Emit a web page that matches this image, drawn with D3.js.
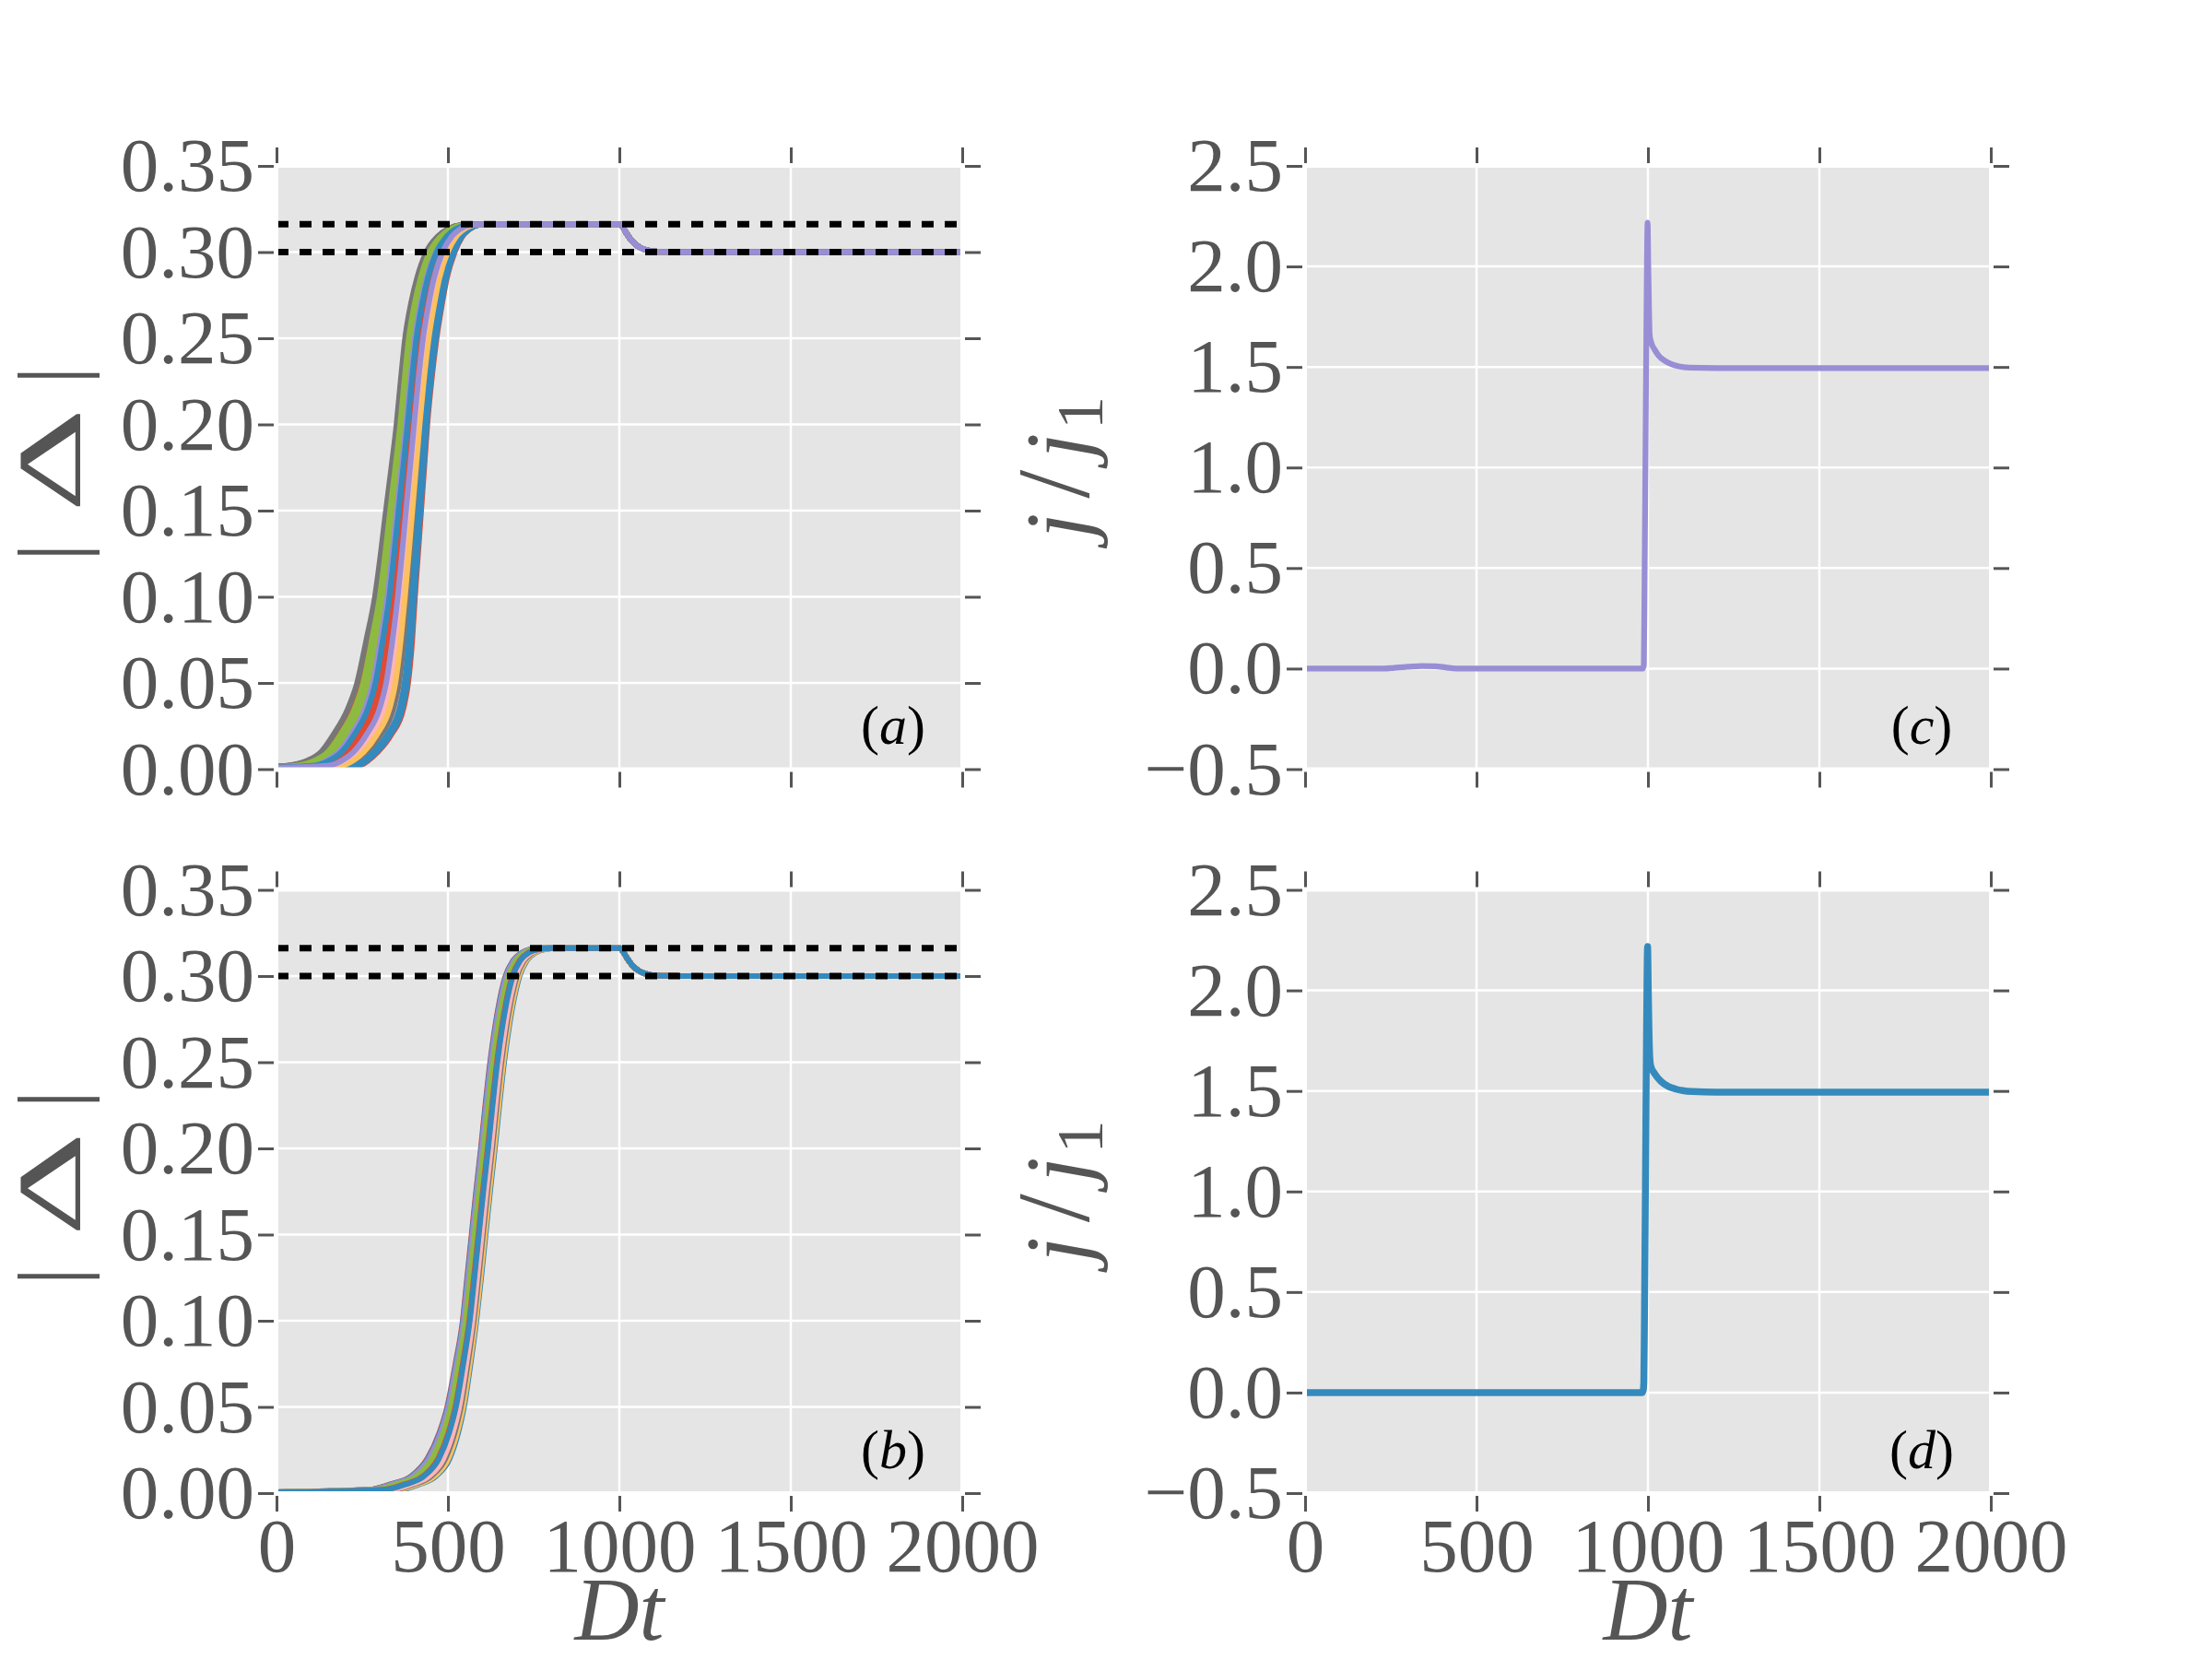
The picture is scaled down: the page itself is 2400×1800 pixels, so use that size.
<!DOCTYPE html>
<html><head><meta charset="utf-8">
<script src="https://cdn.jsdelivr.net/npm/d3@7"></script>
<style>body{margin:0;background:#fff}</style>
</head><body>
<svg id="fig" width="2400" height="1800" xmlns="http://www.w3.org/2000/svg"></svg>
<script>
// ---------------- data ----------------
const xTicks = [0, 500, 1000, 1500, 2000];
const xTickLabels = ["0", "500", "1000", "1500", "2000"];
const gapTicks = [0, 0.05, 0.10, 0.15, 0.20, 0.25, 0.30, 0.35];
const gapTickLabels = ["0.00", "0.05", "0.10", "0.15", "0.20", "0.25", "0.30", "0.35"];
const curTicks = [-0.5, 0, 0.5, 1.0, 1.5, 2.0, 2.5];
const curTickLabels = ["\u22120.5", "0.0", "0.5", "1.0", "1.5", "2.0", "2.5"];
const seriesColors = ["#E24A33", "#348ABD", "#988ED5", "#777777", "#FBC15E", "#8EBA42", "#FFB5B8"];
const dashedLevels = [0.3162, 0.300];

// gap |Delta| rise: levels and times (Dt) at which the earliest / latest curves reach them
const riseLevels = [0.002, 0.005, 0.01, 0.02, 0.035, 0.05, 0.075, 0.10, 0.125, 0.15, 0.175, 0.20, 0.225, 0.25, 0.27, 0.285, 0.30, 0.309, 0.3135, 0.3158, 0.3162];
const gapA_leftTimes  = [30, 90, 130, 166, 208, 235, 262, 287, 304, 319, 335, 350, 362, 375, 392, 410, 437, 470, 500, 538, 575];
const gapA_rightTimes = [240, 268, 296, 335, 370, 384, 396, 404, 413, 422, 431, 440, 452, 467, 483, 497, 520, 542, 565, 590, 615];
const gapA_startValues = [0.0015, 0.0002];
const gapB_leftTimes  = [270, 330, 394, 440, 475, 498, 522, 543, 556, 569, 582, 596, 609, 623, 637, 650, 668, 690, 715, 750, 780];
const gapB_rightTimes = [360, 415, 466, 505, 530, 547, 566, 583, 597, 610, 623, 637, 650, 664, 678, 691, 709, 730, 755, 790, 815];
const gapB_startValues = [0.0006, 0.0002];
// position of each realisation inside the band (0 = earliest, 1 = latest), in drawing order
const gapA_curvePos = [1.00, 0.62, 0.18, 0.85, 0.40, 0.07, 0.73, 0.29, 0.95, 0.51, 0.13, 0.80, 0.35, 0.67, 0.02, 0.46, 0.90, 0.24, 0.58, 0.10, 0.77, 0.33, 0.98, 0.49, 0.16, 0.70, 0.38, 0.87, 0.05, 0.55, 0.27, 0.82, 0.43, 0.21, 0.64, 0.53, 0.93, 0.31, 0.00, 0.75, 0.12, 0.60, 0.45, 0.36, 0.57];
const gapB_curvePos = [0.00, 0.55, 0.92, 0.31, 0.68, 0.14, 0.83, 0.42, 0.05, 0.74, 0.26, 0.97, 0.50, 0.19, 0.63, 0.88, 0.36, 0.09, 0.79, 0.46, 0.23, 0.70, 1.00, 0.33, 0.58, 0.12, 0.86, 0.40, 0.66, 0.03, 0.53, 0.29, 0.94, 0.17, 0.76, 0.44, 0.60, 0.07, 0.81, 0.38, 0.21, 0.72, 0.48, 0.52];
// relaxation after the quench at Dt = 1000 (common to all realisations)
const relaxTimes  = [1000, 1005, 1010, 1020, 1030, 1040, 1050, 1060, 1075, 1090, 1110, 1150, 1200, 2000];
const relaxValues = [0.3162, 0.3158, 0.3145, 0.3112, 0.3082, 0.3058, 0.3040, 0.3027, 0.3014, 0.3007, 0.3003, 0.3001, 0.3000, 0.3000];

// current j/j1
const curC_times  = [0, 230, 260, 300, 340, 380, 410, 440, 985, 988, 990, 993, 996, 999, 1001, 1003, 1005, 1010, 1020, 1032, 1050, 1067, 1090, 1121, 1200, 2000];
const curC_values = [0, 0, 0.004, 0.009, 0.013, 0.012, 0.006, 0, 0, 0.02, 0.4, 1.1, 1.8, 2.217, 2.0, 1.8, 1.66, 1.62, 1.585, 1.555, 1.53, 1.515, 1.503, 1.497, 1.495, 1.495];
const curD_times  = [0, 983, 986, 988, 990, 993, 996, 999, 1001, 1003, 1005, 1008, 1020, 1038, 1060, 1080, 1101, 1130, 1200, 2000];
const curD_values = [0, 0, 0.01, 0.05, 0.4, 1.1, 1.8, 2.218, 2.0, 1.8, 1.68, 1.625, 1.585, 1.548, 1.522, 1.51, 1.502, 1.497, 1.494, 1.494];

// ---------------- drawing ----------------
const svg = d3.select('#fig');
svg.append('rect').attr('width', 2400).attr('height', 1800).attr('fill', '#fff');
const plotW = 744, plotH = 654.5;
const serif = "'Liberation Serif', 'DejaVu Serif', serif";
const tickColor = '#555555';

function gapCurves(leftT, rightT, startV, pos) {
  return pos.map(f => {
    const pts = [[0, startV[0] * (1 - f) + startV[1] * f]];
    riseLevels.forEach((lv, i) => pts.push([leftT[i] * (1 - f) + rightT[i] * f, lv]));
    relaxTimes.forEach((t, i) => pts.push([t, relaxValues[i]]));
    return pts;
  });
}

function drawPanel(cfg) {
  const g = svg.append('g');
  const x = d3.scaleLinear().domain([0, 2000]).range([cfg.x0, cfg.x0 + plotW]);
  const y = d3.scaleLinear().domain(cfg.yDomain).range([cfg.y0 + plotH, cfg.y0]);
  g.append('rect').attr('x', cfg.x0).attr('y', cfg.y0).attr('width', plotW).attr('height', plotH).attr('fill', '#E5E5E5');
  // grid
  g.append('g').selectAll('line').data(xTicks).join('line')
    .attr('x1', d => x(d)).attr('x2', d => x(d)).attr('y1', cfg.y0).attr('y2', cfg.y0 + plotH)
    .attr('stroke', '#fff').attr('stroke-width', 2.5);
  g.append('g').selectAll('line').data(cfg.yTicks).join('line')
    .attr('y1', d => y(d)).attr('y2', d => y(d)).attr('x1', cfg.x0).attr('x2', cfg.x0 + plotW)
    .attr('stroke', '#fff').attr('stroke-width', 2.5);
  // clip
  const clipId = 'clip-' + cfg.id;
  svg.append('clipPath').attr('id', clipId).append('rect')
    .attr('x', cfg.x0).attr('y', cfg.y0).attr('width', plotW).attr('height', plotH);
  const dg = g.append('g').attr('clip-path', `url(#${clipId})`);
  const line = d3.line().x(d => x(d[0])).y(d => y(d[1])).curve(d3.curveMonotoneX);
  cfg.series.forEach(s => {
    dg.append('path').attr('d', line(s.pts)).attr('fill', 'none')
      .attr('stroke', s.color).attr('stroke-width', s.width).attr('stroke-linejoin', 'round');
  });
  if (cfg.dashed) {
    dg.selectAll('.dash').data(cfg.dashed).join('line')
      .attr('x1', x(0)).attr('x2', x(2000)).attr('y1', d => y(d)).attr('y2', d => y(d))
      .attr('stroke', '#000').attr('stroke-width', 7).attr('stroke-dasharray', '13 12');
  }
  // white spine
  g.append('rect').attr('x', cfg.x0).attr('y', cfg.y0).attr('width', plotW).attr('height', plotH)
    .attr('fill', 'none').attr('stroke', '#fff').attr('stroke-width', 4);
  // axes (ticks outward on all sides)
  const yLabels = cfg.yTickLabels;
  const off = 3, tl = 17;
  const left = g.append('g').attr('transform', `translate(${cfg.x0 - off},0)`)
    .call(d3.axisLeft(y).tickValues(cfg.yTicks).tickSize(tl).tickPadding(4)
      .tickFormat((d, i) => yLabels[i]));
  const right = g.append('g').attr('transform', `translate(${cfg.x0 + plotW + off},0)`)
    .call(d3.axisRight(y).tickValues(cfg.yTicks).tickSize(tl).tickFormat(''));
  const top = g.append('g').attr('transform', `translate(0,${cfg.y0 - off})`)
    .call(d3.axisTop(x).tickValues(xTicks).tickSize(tl).tickFormat(''));
  const bottom = g.append('g').attr('transform', `translate(0,${cfg.y0 + plotH + off})`)
    .call(d3.axisBottom(x).tickValues(xTicks).tickSize(tl).tickPadding(6)
      .tickFormat((d, i) => cfg.showX ? xTickLabels[i] : ''));
  [left, right, top, bottom].forEach(a => {
    a.select('.domain').remove();
    a.selectAll('.tick line').attr('stroke', tickColor).attr('stroke-width', 3);
    a.selectAll('.tick text').attr('fill', tickColor).attr('font-family', serif).attr('font-size', 83);
  });
  // panel label
  const pl = g.append('text').attr('x', cfg.x0 + 669).attr('y', cfg.y0 + 627)
    .attr('text-anchor', 'middle').attr('font-family', serif).attr('font-size', 60).attr('fill', '#000');
  pl.append('tspan').text('(');
  pl.append('tspan').attr('font-style', 'italic').text(cfg.id);
  pl.append('tspan').text(')');
  // y label
  const cy = cfg.y0 + plotH / 2;
  if (cfg.kind === 'gap') {
    const lg = g.append('g').attr('transform', `translate(${cfg.x0 - 213},${cy}) rotate(-90)`)
      .attr('font-family', serif).attr('font-size', 98).attr('fill', tickColor).attr('text-anchor', 'middle');
    lg.append('text').attr('x', -92).text('|');
    lg.append('text').attr('transform', 'translate(8,0) scale(1.8,1)').text('\u0394');
    lg.append('text').attr('x', 100).text('|');
  } else {
    const t = g.append('text').attr('transform', `translate(${cfg.x0 - 235},${cy}) rotate(-90)`)
      .attr('text-anchor', 'middle').attr('font-family', serif).attr('font-size', 100).attr('fill', tickColor);
    t.append('tspan').attr('font-style', 'italic').text('j');
    t.append('tspan').attr('dx', 16).attr('font-size', 112).text('/');
    t.append('tspan').attr('dx', 12).attr('font-style', 'italic').text('j');
    t.append('tspan').attr('dx', 4).attr('font-size', 72).attr('dy', 15).text('1');
  }
  if (cfg.showX) {
    g.append('text').attr('x', cfg.x0 + plotW / 2).attr('y', 1779).attr('text-anchor', 'middle')
      .attr('font-family', serif).attr('font-size', 97).attr('font-style', 'italic')
      .attr('fill', tickColor).text('Dt');
  }
}

const curvesA = gapCurves(gapA_leftTimes, gapA_rightTimes, gapA_startValues, gapA_curvePos)
  .map((pts, i) => ({pts, color: seriesColors[i % 7], width: 6}));
const curvesB = gapCurves(gapB_leftTimes, gapB_rightTimes, gapB_startValues, gapB_curvePos)
  .map((pts, i) => ({pts, color: seriesColors[i % 7], width: 6}));
const seriesC = [{pts: curC_times.map((t, i) => [t, curC_values[i]]), color: seriesColors[2], width: 6.25}];
const seriesD = [{pts: curD_times.map((t, i) => [t, curD_values[i]]), color: seriesColors[1], width: 7.5}];

drawPanel({id: 'a', kind: 'gap', x0: 300, y0: 180, yDomain: [0, 0.35], yTicks: gapTicks, yTickLabels: gapTickLabels, series: curvesA, dashed: dashedLevels, showX: false});
drawPanel({id: 'c', kind: 'cur', x0: 1416, y0: 180, yDomain: [-0.5, 2.5], yTicks: curTicks, yTickLabels: curTickLabels, series: seriesC, showX: false});
drawPanel({id: 'b', kind: 'gap', x0: 300, y0: 965.5, yDomain: [0, 0.35], yTicks: gapTicks, yTickLabels: gapTickLabels, series: curvesB, dashed: dashedLevels, showX: true});
drawPanel({id: 'd', kind: 'cur', x0: 1416, y0: 965.5, yDomain: [-0.5, 2.5], yTicks: curTicks, yTickLabels: curTickLabels, series: seriesD, showX: true});
</script>
</body></html>
